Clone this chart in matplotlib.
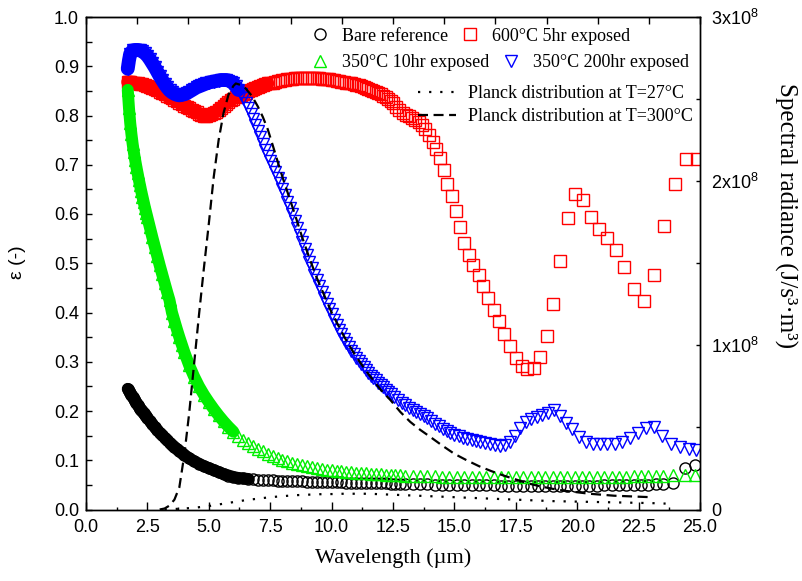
import matplotlib.pyplot as plt
from matplotlib.lines import Line2D
from matplotlib.ticker import MultipleLocator, FormatStrFormatter

# ---- values ----
# bare reference and 350C/10hr share one wavelength grid (um)
wl_a = [1.70, 1.75, 1.80, 1.85, 1.90, 1.95, 2.00, 2.05, 2.10, 2.15, 2.20, 2.25, 2.30, 2.35, 2.40, 2.45, 2.50,
        2.6, 2.7, 2.8, 2.9, 3.0, 3.1, 3.2, 3.3, 3.4, 3.5, 3.6, 3.7, 3.8, 3.9, 4.0,
        4.2, 4.4, 4.6, 4.8, 5.0, 5.2, 5.4, 5.6, 5.8, 6.0,
        6.2, 6.4, 6.6, 6.8, 7.0, 7.2, 7.4, 7.6, 7.8, 8.0,
        8.2, 8.4, 8.6, 8.8, 9.0, 9.2, 9.4, 9.6, 9.8, 10.0,
        10.2, 10.4, 10.6, 10.8, 11.0, 11.2, 11.4, 11.6, 11.8, 12.0,
        12.2, 12.4, 12.6, 12.8, 13.0,
        13.3, 13.6, 13.9, 14.2, 14.5, 14.8, 15.1, 15.4, 15.7, 16.0,
        16.3, 16.6, 16.9, 17.2, 17.5, 17.8, 18.1, 18.4, 18.7, 19.0,
        19.3, 19.6, 19.9, 20.2, 20.5, 20.8, 21.1, 21.4, 21.7, 22.0,
        22.3, 22.6, 22.9, 23.2, 23.5, 23.9, 24.4, 24.8]

bare_ref = [.245, .241, .237, .233, .229, .225, .221, .217, .213, .209, .205, .202, .199, .195, .192, .189, .186,
            .180, .173, .167, .161, .156, .151, .146, .141, .136, .131, .127, .123, .119, .115, .111,
            .104, .098, .093, .088, .084, .080, .076, .072, .069, .066,
            .064, .063, .062, .061, .060, .060, .059, .059, .058, .058,
            .058, .057, .057, .057, .056, .056, .056, .056, .055, .055,
            .055, .055, .054, .054, .054, .054, .053, .053, .053, .053,
            .053, .052, .052, .052, .052,
            .051, .051, .051, .050, .050, .050, .050, .049, .049, .049,
            .049, .049, .048, .048, .048, .048, .048, .048, .048, .048,
            .048, .048, .048, .048, .048, .048, .049, .049, .049, .049,
            .050, .050, .050, .051, .051, .053, .084, .091]

exp_350_10hr = [.852, .815, .785, .762, .742, .725, .710, .696, .683, .670, .658, .646, .635, .624, .613, .603, .593,
                .573, .553, .534, .515, .496, .478, .460, .442, .425, .400, .383, .366, .350, .335, .320,
                .293, .270, .250, .233, .218, .204, .191, .179, .168, .158,
                .150, .142, .135, .129, .123, .118, .113, .109, .105, .101,
                .098, .095, .092, .090, .088, .086, .084, .082, .081, .080,
                .079, .078, .077, .076, .075, .074, .074, .073, .072, .072,
                .071, .071, .070, .070, .069,
                .069, .068, .068, .068, .067, .067, .067, .067, .066, .066,
                .066, .066, .066, .066, .066, .066, .066, .066, .066, .066,
                .066, .066, .066, .066, .066, .067, .067, .067, .067, .067,
                .068, .068, .068, .069, .069, .070, .071, .071]

# 600C/5hr and 350C/200hr share the dense short-wavelength grid
wl_b = [1.70, 1.75,
        1.8, 1.9, 2.0, 2.1, 2.2, 2.3, 2.4, 2.5, 2.6, 2.7,
        2.8, 2.9, 3.0, 3.1, 3.2, 3.3, 3.4, 3.5, 3.6, 3.7,
        3.8, 3.9, 4.0, 4.1, 4.2, 4.3, 4.4, 4.5, 4.6, 4.7,
        4.8, 4.9, 5.0, 5.1, 5.2, 5.3, 5.4, 5.5, 5.6, 5.7,
        5.8, 5.9, 6.0, 6.1, 6.2, 6.3, 6.4, 6.5, 6.6, 6.7,
        6.8, 6.9, 7.0, 7.1, 7.2, 7.3, 7.4, 7.5, 7.6, 7.7,
        7.8, 7.9, 8.0, 8.1, 8.2, 8.3, 8.4, 8.5, 8.6, 8.7,
        8.8, 8.9, 9.0, 9.1, 9.2, 9.3, 9.4, 9.5, 9.6, 9.7,
        9.8, 9.9, 10.0, 10.1, 10.2, 10.3, 10.4, 10.5, 10.6, 10.7,
        10.8, 10.9, 11.0, 11.1, 11.2, 11.3, 11.4, 11.5, 11.6, 11.7,
        11.8, 11.9, 12.0, 12.1, 12.2, 12.3, 12.4]

exp_600_5hr = [.868, .868,
               .868, .867, .866, .865, .864, .863, .861, .860, .858, .856,
               .853, .851, .848, .846, .843, .840, .838, .835, .832, .829,
               .826, .823, .820, .817, .815, .812, .810, .807, .804, .802,
               .800, .800, .801, .803, .805, .808, .812, .816, .820, .824,
               .828, .832, .834, .837, .839, .841, .844, .846, .849, .851,
               .853, .856, .858, .860, .861, .863, .865, .866, .867, .869,
               .870, .871, .872, .873, .874, .875, .875, .876, .876, .877,
               .877, .877, .877, .877, .877, .877, .876, .876, .875, .875,
               .874, .874, .873, .872, .871, .870, .869, .868, .867, .866,
               .865, .863, .862, .861, .859, .858, .856, .854, .852, .850,
               .848, .846, .843, .840, .837, .834, .830]

exp_350_200hr = [.895, .912,
                 .925, .932, .933, .933, .932, .930, .926, .921, .914, .906,
                 .898, .889, .880, .872, .864, .857, .851, .847, .844, .842,
                 .841, .842, .843, .845, .848, .851, .854, .857, .859, .861,
                 .863, .865, .867, .868, .869, .870, .871, .872, .872, .872,
                 .871, .869, .865, .859, .852, .844, .835, .826, .815, .804,
                 .792, .781, .769, .756, .743, .730, .718, .707, .696, .685,
                 .674, .663, .651, .638, .625, .612, .599, .585, .571, .557,
                 .543, .529, .516, .503, .490, .477, .465, .453, .441, .429,
                 .418, .407, .396, .385, .375, .365, .356, .347, .338, .330,
                 .322, .315, .308, .301, .295, .289, .283, .277, .272, .267,
                 .262, .257, .252, .248, .243, .239, .235]

# long-wavelength parts, where single markers can be read
wl_600_tail = [12.50, 12.63, 12.76, 12.89, 13.02, 13.15, 13.28, 13.41, 13.54, 13.68,
               13.82, 13.96, 14.11, 14.26, 14.41, 14.56, 14.71, 14.89, 15.05, 15.23,
               15.40, 15.61, 15.77, 15.99, 16.18, 16.38, 16.60, 16.83, 17.03, 17.26,
               17.50, 17.74, 17.97, 18.23, 18.49, 18.76, 19.03, 19.31, 19.61, 19.91,
               20.22, 20.55, 20.88, 21.21, 21.57, 21.92, 22.31, 22.71, 23.11, 23.55,
               23.98, 24.42, 24.86]
exp_600_5hr_tail = [.825, .818, .812, .806, .802, .798, .794, .791, .787, .781,
                    .773, .761, .746, .731, .714, .690, .661, .636, .607, .573,
                    .541, .516, .496, .476, .453, .430, .406, .382, .357, .332,
                    .308, .291, .285, .288, .309, .352, .418, .505, .591, .640,
                    .629, .594, .569, .551, .527, .493, .447, .424, .476, .576,
                    .661, .711, .711]

wl_200hr_tail = [12.55, 12.70, 12.85, 13.00, 13.15, 13.30, 13.45, 13.60, 13.75, 13.90,
                 14.05, 14.20, 14.36, 14.52, 14.68, 14.84, 15.00, 15.17, 15.34, 15.52,
                 15.70, 15.88, 16.06, 16.25, 16.45, 16.65, 16.86, 17.06, 17.26, 17.47,
                 17.68, 17.90, 18.12, 18.35, 18.58, 18.82, 19.06, 19.30, 19.55, 19.80,
                 20.07, 20.35, 20.63, 20.92, 21.22, 21.52, 21.83, 22.15, 22.47, 22.80,
                 23.13, 23.47, 23.82, 24.18, 24.55, 24.85]
exp_350_200hr_tail = [.228, .222, .217, .212, .207, .202, .198, .194, .190, .186,
                      .179, .174, .169, .164, .159, .155, .152, .149, .146, .143,
                      .141, .139, .137, .135, .133, .131, .129, .131, .138, .150,
                      .165, .178, .183, .187, .191, .196, .202, .190, .176, .163,
                      .148, .138, .133, .132, .132, .132, .137, .146, .156, .165,
                      .167, .150, .132, .126, .123, .121]

# Planck curves on the right axis, in units of 1e8 J/s^3.m^3
wl_planck_300 = [3.0, 3.2, 3.4, 3.6, 3.8, 4.0, 4.2, 4.4, 4.6, 4.8, 5.0, 5.2, 5.4, 5.6, 5.8,
                 6.0, 6.1, 6.3, 6.5, 6.75, 7.0, 7.2, 7.4, 7.6, 7.8, 8.0, 8.2, 8.5, 8.8,
                 9.1, 9.4, 9.7, 10.0, 10.5, 11.0, 11.5, 12.0, 12.4, 12.8, 13.2, 13.6,
                 14.0, 14.5, 15.0, 15.5, 16.0, 16.5, 17.0, 17.5, 18.0, 18.5, 19.0,
                 19.5, 20.0, 20.5, 21.0, 21.5, 22.0, 22.5, 23.0]
planck_300 = [0.0, 0.006, 0.024, 0.06, 0.135, 0.33, 0.585, 0.885, 1.185, 1.47, 1.74, 2.025, 2.25, 2.415, 2.526,
              2.58, 2.595, 2.586, 2.565, 2.52, 2.454, 2.391, 2.316, 2.22, 2.121, 2.025, 1.935, 1.80, 1.659,
              1.53, 1.41, 1.305, 1.20, 1.056, 0.93, 0.825, 0.729, 0.666, 0.594, 0.534, 0.486,
              0.444, 0.39, 0.339, 0.30, 0.264, 0.234, 0.207, 0.183, 0.159, 0.141, 0.126,
              0.114, 0.105, 0.096, 0.09, 0.084, 0.081, 0.078, 0.075]

wl_planck_27 = [3.2, 3.6, 4.0, 4.5, 5.0, 5.5, 6.0, 6.5, 7.0, 7.5, 8.0, 8.5, 9.0, 9.5, 10.0,
                10.5, 11.0, 11.5, 12.0, 13.0, 14.0, 15.0, 16.0, 17.0, 18.0, 19.0, 20.0,
                21.0, 22.0, 23.0, 23.6]
planck_27 = [0.0, 0.003, 0.006, 0.012, 0.021, 0.033, 0.045, 0.057, 0.066, 0.075, 0.081, 0.087, 0.09, 0.093, 0.094,
             0.096, 0.096, 0.096, 0.093, 0.087, 0.081, 0.075, 0.069, 0.063, 0.057, 0.051, 0.048,
             0.045, 0.042, 0.039, 0.036]

right_ticks = [0, 1, 2, 3]
right_ticklabels = ['0', '1x10$^{8}$', '2x10$^{8}$', '3x10$^{8}$']

# up to these wavelengths the markers overlap into a solid band
band_end = {'bare': 6.6, '600': 7.4, '10hr': 6.0, '200hr': 6.2}

SERIF = ['Liberation Serif', 'DejaVu Serif']
SANS = ['Liberation Sans', 'DejaVu Sans']
plt.rcParams['font.family'] = SANS
plt.rcParams['mathtext.fontset'] = 'custom'
plt.rcParams['mathtext.rm'] = 'Liberation Sans'
plt.rcParams['mathtext.it'] = 'Liberation Sans:italic'

RED, GREEN, BLUE = '#ff0000', '#00ee00', '#0000ff'


def band(ax, x, y, upto, color, lw):
    xs = [a for a in x if a <= upto]
    ys = y[:len(xs)]
    ax.plot(xs, ys, color=color, lw=lw, solid_capstyle='round', solid_joinstyle='round')


fig = plt.figure(figsize=(8.03, 5.81), dpi=100)
W, H = 803, 581
ax = fig.add_axes([86 / W, 1 - 509.5 / H, 614 / W, 492.5 / H])
ax2 = ax.twinx()

mk = dict(ls='none', mfc='none', ms=8, mew=1.0)
band(ax, wl_a, bare_ref, band_end['bare'], 'black', 8.6)
ax.plot(wl_a, bare_ref, marker='o', mec='black', **mk)
band(ax, wl_b, exp_600_5hr, band_end['600'], RED, 9.4)
ax.plot(wl_b + wl_600_tail, exp_600_5hr + exp_600_5hr_tail, marker='s', mec=RED, **mk)
band(ax, wl_a, exp_350_10hr, band_end['10hr'], GREEN, 8.6)
ax.plot(wl_a, exp_350_10hr, marker='^', mec=GREEN, **mk)
band(ax, wl_b, exp_350_200hr, band_end['200hr'], BLUE, 10.0)
ax.plot(wl_b + wl_200hr_tail, exp_350_200hr + exp_350_200hr_tail, marker='v', mec=BLUE, **mk)

ax2.plot(wl_planck_27, planck_27, color='black', lw=1.6, ls=(0, (1, 4)))
ax2.plot(wl_planck_300, planck_300, color='black', lw=1.6, ls=(0, (4.5, 2.5)))

ax.set_xlim(0, 25)
ax.set_ylim(0, 1.0)
ax2.set_ylim(0, 3)

ax.xaxis.set_major_locator(MultipleLocator(2.5))
ax.xaxis.set_minor_locator(MultipleLocator(1.25))
ax.xaxis.set_major_formatter(FormatStrFormatter('%.1f'))
ax.yaxis.set_major_locator(MultipleLocator(0.1))
ax.yaxis.set_minor_locator(MultipleLocator(0.05))
ax.yaxis.set_major_formatter(FormatStrFormatter('%.1f'))
ax.tick_params(axis='x', which='major', direction='in', length=5.5, width=1, labelsize=13, pad=7)
ax.tick_params(axis='x', which='minor', direction='in', length=2.5, width=1)
ax.tick_params(axis='y', which='both', direction='in', length=4.3, width=1, labelsize=13, pad=5)

top = ax.secondary_xaxis('top')
top.xaxis.set_major_locator(MultipleLocator(25 / 12))
top.tick_params(direction='in', length=5, width=1, labeltop=False)

ax2.set_yticks(right_ticks)
ax2.set_yticklabels(right_ticklabels)
ax2.yaxis.set_minor_locator(MultipleLocator(0.5))
ax2.tick_params(axis='y', which='both', direction='in', length=3.2, width=1, labelsize=13, pad=8)

for a in (ax, ax2):
    for s in a.spines.values():
        s.set_linewidth(1.0)

fig.text(393 / W, 1 - 558 / H, 'Wavelength (\u00b5m)', family=SERIF, fontsize=16,
         ha='center', va='center')
fig.text(18 / W, 1 - 262 / H, '\u03b5 (-)', fontsize=14, rotation=90, ha='center', va='center')
fig.text(786 / W, 1 - 216 / H, 'Spectral radiance (J/s\u00b3\u00b7m\u00b3)', family=SERIF,
         fontsize=18, rotation=270, ha='center', va='center')

# legend, drawn as three blocks like the original layout
h_bare = Line2D([], [], marker='o', mec='black', **mk)
h_600 = Line2D([], [], marker='s', mec=RED, **mk)
h_10 = Line2D([], [], marker='^', mec=GREEN, **mk)
h_200 = Line2D([], [], marker='v', mec=BLUE, **mk)
h_27 = Line2D([], [], color='black', lw=1.6, ls=(0, (1, 4)))
h_300 = Line2D([], [], color='black', lw=1.6, ls=(0, (4.5, 2.5)))

leg_prop = dict(family=SERIF, size=13)
common = dict(frameon=False, prop=leg_prop, borderpad=0, borderaxespad=0, loc='center left')
leg1 = ax2.legend([h_bare, h_600], ['Bare reference', '600\u00b0C 5hr exposed'], ncol=2,
                  bbox_to_anchor=(0.3664, 0.9614), handlelength=1.0, handletextpad=0.7,
                  columnspacing=0.75, **common)
ax2.add_artist(leg1)
leg2 = ax2.legend([h_10, h_200], ['350\u00b0C 10hr exposed', '350\u00b0C 200hr exposed'], ncol=2,
                  bbox_to_anchor=(0.3664, 0.9072), handlelength=1.0, handletextpad=0.7,
                  columnspacing=0.75, **common)
ax2.add_artist(leg2)
ax2.legend([h_27, h_300], ['Planck distribution at T=27\u00b0C', 'Planck distribution at T=300\u00b0C'],
           bbox_to_anchor=(0.5407, 0.8213), handlelength=2.1, handletextpad=0.65,
           labelspacing=0.35, **common)

fig.savefig('out.png', dpi=100)
